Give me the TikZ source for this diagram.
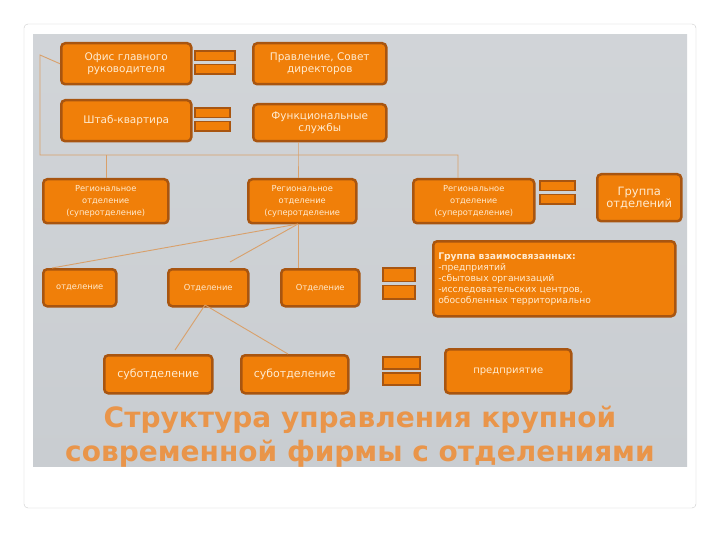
\documentclass[tikz,border=0pt]{standalone}
\usepackage{fontspec}
\setmainfont{DejaVu Sans}
\begin{document}
\begin{tikzpicture}[x=1pt,y=-1pt,
  box/.style={draw=boxedge,line width=2.5pt,fill=boxfill,rounded corners=4pt,text=boxtext,align=center,font=\fontsize{10.5}{12}\selectfont,inner sep=1pt},
  lnk/.style={draw=linkc,line width=0.9pt},
  bar/.style={draw=boxedge,line width=1.2pt,fill=boxfill}]
\definecolor{boxedge}{HTML}{A85510}
\definecolor{boxfill}{HTML}{F07F09}
\definecolor{boxtext}{HTML}{FFEBD0}
\definecolor{linkc}{HTML}{D9A06A}
\definecolor{panel}{HTML}{C9CDD1}
\definecolor{titlec}{HTML}{E9954A}
\useasboundingbox (0,0) rectangle (720,540);
\fill[white] (0,0) rectangle (720,540);
\draw[gray!40,rounded corners=4pt] (24,24) rectangle (696,508);
\shade[top color=panel!85,bottom color=panel] (33,35) rectangle (687,466);
\def\B(#1,#2,#3,#4)#5#6{\node[box,minimum width=#3-#1,minimum height=#4-#2,anchor=north west] (#5) at (#1,#2) {#6};}
\def\sm{\fontsize{8.3}{10.5}\selectfont}
\B(60,42,190,83){ofis}{Офис главного\\руководителя}
\B(252,42,385,83){prav}{Правление, Совет\\директоров}
\B(60,99,190,140){shtab}{Штаб-квартира}
\B(252,103,385,140){func}{Функциональные\\службы}
\B(42,178,167,222){r1}{\sm Региональное\\\sm отделение\\\sm (суперотделение)}
\B(247,178,355,222){r2}{\sm Региональное\\\sm отделение\\\sm (суперотделение}
\B(412,178,533,222){r3}{\sm Региональное\\\sm отделение\\\sm (суперотделение)}
\B(596,173,680,220){grp}{\fontsize{11.5}{13}\selectfont Группа\\\fontsize{11.5}{13}\selectfont отделений}
\node[box,minimum width=242,minimum height=75,anchor=north west,align=left,text width=232,font=\fontsize{9.2}{11}\selectfont] (gv) at (432,240) {\textbf{Группа взаимосвязанных:}\\-предприятий\\-сбытовых организаций\\-исследовательских центров,\\обособленных территориально};
\B(42,268,115,305){o1}{\sm отделение}
\B(167,268,247,305){o2}{\sm Отделение}
\B(280,268,358,305){o3}{\sm Отделение}
\B(103,354,211,392){s1}{\fontsize{11}{13}\selectfont суботделение}
\B(240,354,347,392){s2}{\fontsize{11}{13}\selectfont суботделение}
\B(444,348,570,392){pr}{\fontsize{10}{12}\selectfont предприятие}
\def\EQ(#1,#2,#3,#4){\draw[bar] (#1,#2) rectangle (#3,{(#2+#4)/2-2}); \draw[bar] (#1,{(#2+#4)/2+2}) rectangle (#3,#4);}
\EQ(195,51,235,74)
\EQ(195,108,230,131)
\EQ(540,181,575,204)
\EQ(383,268,415,299)
\EQ(383,357,420,385)
\coordinate (c0) at (40,155);
\coordinate (j1) at (106,155);
\coordinate (j2) at (298,155);
\coordinate (j3) at (458,155);
\draw[lnk] (ofis.west) -- (40,55) -- (c0) -- (j3) -- (j3 |- r3.north);
\draw[lnk] (j1) -- (j1 |- r1.north);
\draw[lnk] (j2 |- func.south) -- (j2) -- (j2 |- r2.north);
\coordinate (rb) at (298,224);
\draw[lnk] (rb) -- ([xshift=10]o1.north west);
\draw[lnk] (rb) -- (230,262);
\draw[lnk] (rb) -- (rb |- o3.north);
\coordinate (ob) at (205,305);
\draw[lnk] (ob) -- (175,350);
\draw[lnk] (ob) -- (288,354);
\node[text=titlec,font=\bfseries\fontsize{28}{34}\selectfont,align=center] (title) at (360,437) {Структура управления крупной\\современной фирмы с отделениями};
\end{tikzpicture}
\end{document}
